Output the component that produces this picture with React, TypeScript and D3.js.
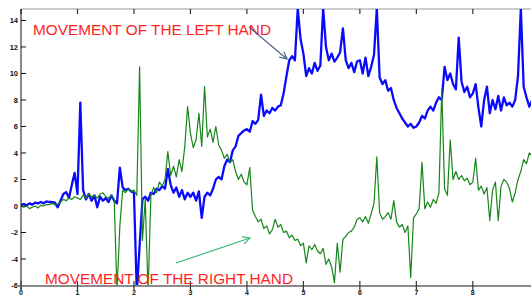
import * as d3 from "d3";

// sample spacing on the time axis
const step = 0.05;

// left hand (blue)
const leftHand = [
  0.1, 0.15, 0.05, 0.2, 0.1, 0.25, 0.2, 0.3, 0.2, 0.35,
  0.3, 0.3, 0.25, -0.1, 0.4, 0.9, 1.05, 0.6, 1.6, 2.5,
  0.9, 7.8, 1.2, 0.5, 0.9, 0.4, 0.8, -0.1, 0.7, 0.4,
  0.6, 0.3, 0.8, 0.4, 0.2, 2.9, 1.4, 1.2, 1.3, 1.1,
  1.0, -6.5, -3.0, 0.5, 0.7, 0.4, 1.0, 0.9, 1.3, 1.2,
  1.5, 1.3, 2.8, 1.6, 1.0, 1.4, 0.7, 1.2, 0.5, 1.0,
  0.7, 1.0, 0.4, 1.1, -0.9, 0.7, 1.0, 0.8, 1.3, 2.0,
  2.2, 2.0, 3.0, 3.5, 3.3, 4.2, 4.5, 5.3, 5.5, 5.7,
  5.8, 5.6, 6.4, 6.2, 6.5, 8.4, 6.8, 7.2, 7.0, 7.4,
  7.2, 7.5, 7.6, 8.5, 9.8, 11.0, 11.3, 11.0, 14.9, 12.6,
  11.5, 9.8, 10.4, 10.0, 10.8, 10.2, 10.6, 14.9, 12.0, 11.0,
  11.5, 10.9, 11.2, 11.6, 13.4, 11.0, 10.4, 10.8, 10.1, 10.9,
  11.0, 10.0, 11.2, 9.8, 10.5, 11.4, 14.9, 9.7, 9.2, 9.5,
  8.7, 8.9, 8.0, 7.4, 7.0, 6.6, 6.3, 6.0, 6.2, 5.9,
  6.0, 6.3, 6.8, 6.6, 7.2, 7.5, 7.2, 7.8, 8.2, 8.0,
  10.5, 9.5, 10.0, 9.2, 8.8, 12.7, 9.4, 8.6, 9.0, 8.2,
  8.5, 9.2, 7.4, 6.0, 8.0, 9.0, 7.0, 8.0, 7.3, 8.3,
  7.2, 8.2, 7.6, 7.8, 7.5, 8.0, 9.8, 14.9, 9.0, 8.2,
  7.5, 8.0,
];

// right hand (green)
const rightHand = [
  0.0, -0.1, 0.0, -0.2, -0.1, 0.0, -0.15, 0.05, 0.0, 0.1,
  0.1, 0.2, 0.1, 0.15, 0.3, 0.5, 0.4, 0.6, 0.5, 0.7,
  0.6, 0.5, 0.8, 0.6, 0.9, 0.7, 0.8, 0.6, 0.9, 1.0,
  0.7, 0.6, 0.8, 0.5, -6.5, -1.5, 1.2, 1.0, 1.3, 1.1,
  1.2, 0.8, 10.5, -2.6, 0.5, -6.5, 0.8, 1.4, 1.0, 1.8,
  1.5, 2.0, 4.1, 2.3, 3.0, 2.2, 3.5, 2.6, 4.5, 7.5,
  5.5, 4.4, 5.0, 7.0, 4.5, 9.0, 5.2, 5.8, 4.8, 6.0,
  4.6, 4.2, 3.6, 3.9, 3.3, 3.5, 2.6, 2.0, 2.4, 1.8,
  1.6, 2.9, -0.3, -0.8, -1.2, -1.0, -1.7, -1.5, -2.1, -1.8,
  -1.0, -1.6, -1.4, -2.0, -1.9, -2.4, -2.2, -2.6, -2.5, -3.0,
  -2.8, -4.3, -3.0, -3.3, -2.9, -3.4, -3.6, -3.2, -4.4, -4.0,
  -4.6, -5.8, -2.8, -5.0, -2.5, -2.3, -2.0, -1.9, -1.6, -1.0,
  -0.9, -1.2, -0.8, -1.3, -0.6, 0.2, 3.7, -0.5, -1.0, -0.8,
  -0.5, -1.0, 0.4, -1.2, -1.6, -1.4, -2.0, -1.5, -5.4, -0.9,
  -0.6, -0.2, 3.3, -0.2, 0.3, -0.1, 0.5, 0.2, 1.0, 8.8,
  1.3, 0.8, 5.0, 2.0, 2.6, 2.0, 2.3, 1.9, 2.1, 1.6,
  1.8, 3.6, 1.2, 1.5, 0.9, 1.4, -1.1, 1.2, 1.8, -1.1,
  1.5, 2.0, 1.8, 1.3, 0.3, 1.0, 2.0, 2.6, 3.5, 3.2,
  4.0, 3.8,
];

const yTicks = [-6, -4, -2, 0, 2, 4, 6, 8, 10, 12, 14];
const xTicks = [0, 1, 2, 3, 4, 5, 6, 7, 8];
const leftLabel = "MOVEMENT OF THE LEFT HAND";
const rightLabel = "MOVEMENT OF THE RIGHT HAND";

export default function App() {
  const width = 531;
  const height = 297;
  const left = 21;
  const top = 9;
  const bottom = 286;

  const x = d3.scaleLinear().domain([0, 9.03]).range([left, width]);
  const y = d3.scaleLinear().domain([-6, 14.85]).range([285.5, 9.2]);

  const line = d3
    .line<number>()
    .x((_, i) => x(i * step))
    .y((d) => y(d));

  return (
    <svg
      width={width}
      height={height}
      style={{ position: "fixed", left: 0, top: 0, background: "#fff" }}
      fontFamily="Liberation Sans, Arial, sans-serif"
    >
      <defs>
        <clipPath id="plot">
          <rect x={left} y={top} width={width - left} height={bottom - top} />
        </clipPath>
        <marker id="headBlue" viewBox="0 0 10 10" refX="9" refY="5" markerWidth="9" markerHeight="9" markerUnits="userSpaceOnUse" orient="auto">
          <path d="M1,1 L9,5 L1,9" fill="none" stroke="#4b5d85" strokeWidth="1.3" />
        </marker>
        <marker id="headGreen" viewBox="0 0 10 10" refX="9" refY="5" markerWidth="9" markerHeight="9" markerUnits="userSpaceOnUse" orient="auto">
          <path d="M1,1 L9,5 L1,9" fill="none" stroke="#3cb878" strokeWidth="1.3" />
        </marker>
      </defs>

      {/* frame */}
      <line x1={left} x2={width} y1={top} y2={top} stroke="#999" strokeWidth={1} />
      {xTicks.map((t) => (
        <line key={"tt" + t} x1={x(t)} x2={x(t)} y1={top} y2={top + 5} stroke="#333" strokeWidth={1.2} />
      ))}

      <g clipPath="url(#plot)">
        <path d={line(leftHand) ?? ""} fill="none" stroke="#0a0aff" strokeWidth={2.3} strokeLinejoin="round" />
        <path d={line(rightHand) ?? ""} fill="none" stroke="#17861a" strokeWidth={1.2} strokeLinejoin="round" />
      </g>

      {/* left axis */}
      <line x1={left} x2={left} y1={top} y2={bottom + 4} stroke="#111" strokeWidth={1} />
      {yTicks.map((t) => (
        <g key={"y" + t}>
          <line x1={left} x2={left + 5} y1={y(t)} y2={y(t)} stroke="#111" strokeWidth={1} />
          <text x={left - 3} y={y(t)} dy="0.35em" textAnchor="end" fontSize={7.5} fontWeight="bold" fill="#111">
            {t}
          </text>
        </g>
      ))}

      {/* bottom axis */}
      <line x1={left - 4} x2={width} y1={bottom} y2={bottom} stroke="#8a8a8a" strokeWidth={2} />
      {xTicks.map((t) => (
        <g key={"x" + t}>
          <line x1={x(t)} x2={x(t)} y1={bottom - 5} y2={bottom + 4} stroke="#333" strokeWidth={1.2} />
          <text x={x(t)} y={295} textAnchor="middle" fontSize={7} fontWeight="bold" fill="#111">
            {t}
          </text>
        </g>
      ))}

      {/* annotations */}
      <text x={33} y={35} fontSize={14} fill="#ff1f1f" textLength={238} lengthAdjust="spacingAndGlyphs">
        {leftLabel}
      </text>
      <line x1={249} y1={27} x2={287} y2={59} stroke="#4b5d85" strokeWidth={1.2} markerEnd="url(#headBlue)" />

      <text x={45} y={284} fontSize={14} fill="#ff1f1f" textLength={248} lengthAdjust="spacingAndGlyphs">
        {rightLabel}
      </text>
      <line x1={176} y1={263} x2={250} y2={238} stroke="#3cb878" strokeWidth={1.2} markerEnd="url(#headGreen)" />
    </svg>
  );
}
